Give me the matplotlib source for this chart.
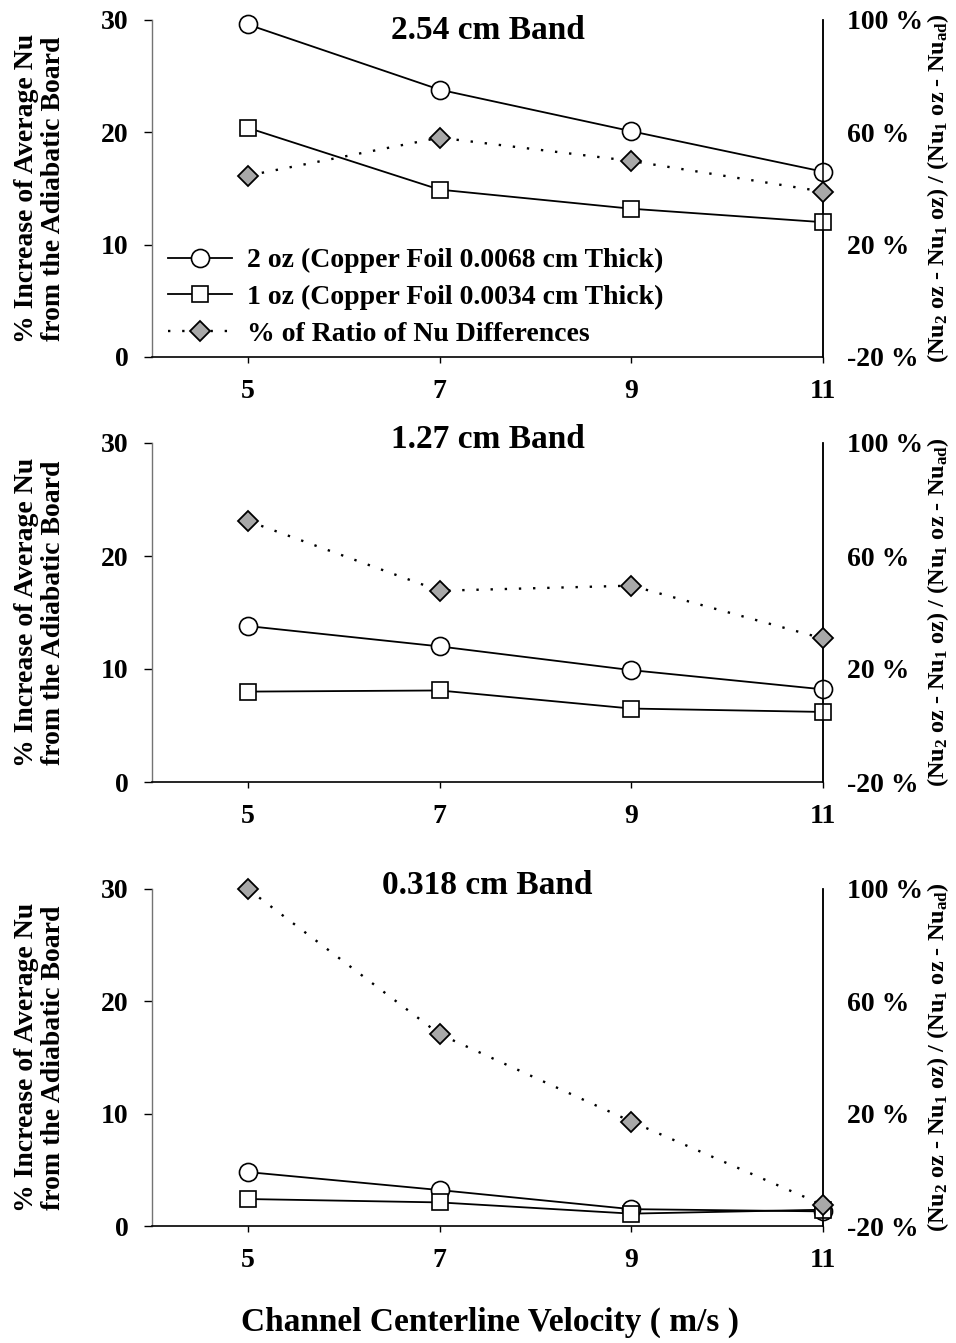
import matplotlib
matplotlib.use('Agg')
import matplotlib.pyplot as plt

plt.rcParams['font.family'] = ['Liberation Serif', 'DejaVu Serif']
plt.rcParams['font.weight'] = 'bold'
plt.rcParams['mathtext.fontset'] = 'custom'
plt.rcParams['mathtext.rm'] = 'Liberation Serif:bold'
plt.rcParams['mathtext.it'] = 'Liberation Serif:bold'
plt.rcParams['mathtext.bf'] = 'Liberation Serif:bold'
plt.rcParams['mathtext.default'] = 'rm'

# --- data ---
velocity = [5, 7, 9, 11]
bands = ['2.54 cm Band', '1.27 cm Band', '0.318 cm Band']
nu_2oz = [
    [29.6, 23.8, 20.1, 16.5],
    [13.8, 12.0, 9.9, 8.2],
    [4.8, 3.2, 1.5, 1.3],
]
nu_1oz = [
    [20.4, 14.9, 13.2, 12.0],
    [8.0, 8.1, 6.5, 6.2],
    [2.4, 2.1, 1.1, 1.45],
]
ratio_pct = [
    [44.6, 58.1, 49.8, 38.9],
    [72.4, 47.7, 49.5, 30.8],
    [100.0, 48.3, 17.2, -12.5],
]
left_ticks = [0, 10, 20, 30]
right_ticks = [-20, 20, 60, 100]
right_ticklabels = ['-20 %', '20 %', '60 %', '100 %']

# 布局（figure fraction）
W, H = 956, 1343
fig = plt.figure(figsize=(W / 100, H / 100), dpi=100)
x0, x1 = 152 / W, 823 / W
panel_px = [(20, 357), (443, 782), (889, 1226)]
title_y = [0.97, 1.01, 1.01]

TICK_FS = 20
LBL_FS = 20

for i, (top, bot) in enumerate(panel_px):
    ax = fig.add_axes([x0, 1 - bot / H, x1 - x0, (bot - top) / H])
    ax2 = ax.twinx()

    l2, = ax.plot(velocity, nu_2oz[i], '-', color='black', lw=1.3,
                  marker='o', ms=13, mfc='white', mec='black', mew=1.2,
                  label='2 oz (Copper Foil 0.0068 cm Thick)', zorder=3,
                  clip_on=False)
    l1, = ax.plot(velocity, nu_1oz[i], '-', color='black', lw=1.3,
                  marker='s', ms=12, mfc='white', mec='black', mew=1.2,
                  label='1 oz (Copper Foil 0.0034 cm Thick)', zorder=3,
                  clip_on=False)
    lr, = ax2.plot(velocity, ratio_pct[i], color='black', lw=1.7,
                   linestyle=(0, (1, 5)), marker='D', ms=10.5,
                   mfc='#a8a8a8', mec='black', mew=1.3,
                   label='% of Ratio of Nu Differences', zorder=3,
                   clip_on=False)

    ax.set_xlim(4, 11)
    ax.set_ylim(0, 30)
    ax2.set_ylim(-20, 100)
    ax.set_xticks(velocity)
    ax.set_yticks(left_ticks)
    ax2.set_yticks(right_ticks)
    ax2.set_yticklabels(right_ticklabels)

    for a in (ax, ax2):
        a.spines['top'].set_visible(False)
    ax.spines['left'].set_color('0.45')
    ax.spines['left'].set_linewidth(1.0)
    ax.spines['bottom'].set_linewidth(1.2)
    ax.spines['right'].set_linewidth(1.1)
    ax2.spines['left'].set_visible(False)
    ax2.spines['bottom'].set_visible(False)
    ax2.spines['right'].set_linewidth(1.1)

    ax.tick_params(axis='y', direction='out', length=6, width=1, pad=11,
                   labelsize=TICK_FS)
    ax.tick_params(axis='x', direction='out', length=4, width=1, pad=12,
                   labelsize=TICK_FS)
    ax2.tick_params(axis='y', length=0, pad=17, labelsize=TICK_FS)
    for t in ax2.get_yticklabels():
        t.set_horizontalalignment('left')

    # 左右纵轴标题（直接用 fig.text 定位中心）
    yc = 1 - (top + bot) / 2 / H
    fig.text(40 / W, yc, '% Increase of Average Nu\nfrom the Adiabatic Board',
             rotation=90, ha='center', va='center', fontsize=LBL_FS,
             fontweight='bold', linespacing=1.1)
    fig.text(938 / W, yc,
             r'(Nu$_2$ oz - Nu$_1$ oz) / (Nu$_1$ oz - Nu$_{ad}$)',
             rotation=90, ha='center', va='center', fontsize=17.5,
             fontweight='bold')

    ax.text(0.5, title_y[i], bands[i], transform=ax.transAxes,
            ha='center', va='center', fontsize=24, fontweight='bold')

    if i == 0:
        ax.legend(handles=[l2, l1, lr], loc='upper left',
                  bbox_to_anchor=(0.015, 0.34), frameon=False,
                  fontsize=20, handlelength=2.3, handletextpad=0.55,
                  labelspacing=0.4, borderaxespad=0, borderpad=0.2)

fig.text(490 / W, 1 - 1322 / H, 'Channel Centerline Velocity ( m/s )',
         ha='center', va='center', fontsize=24, fontweight='bold')

fig.savefig('out.png', dpi=100)
